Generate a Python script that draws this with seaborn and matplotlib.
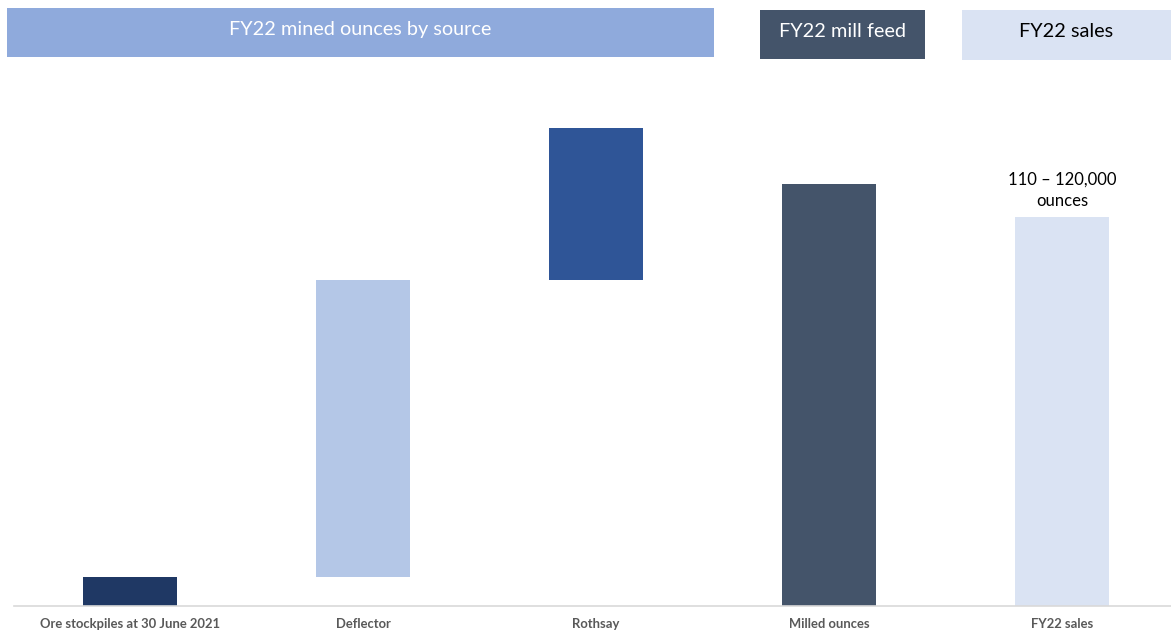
import matplotlib
matplotlib.use("Agg")
import matplotlib.pyplot as plt
import seaborn as sns
import pandas as pd
from matplotlib.patches import Rectangle

# waterfall data (thousand ounces)
categories = ["Ore stockpiles at 30 June 2021", "Deflector", "Rothsay", "Milled ounces", "FY22 sales"]
heights = [8.5, 88.0, 45.0, 125.0, 115.0]
bases = [0.0, 8.5, 96.5, 0.0, 0.0]
bar_colors = ["#1F3864", "#B4C7E7", "#2F5597", "#44546A", "#DAE3F3"]
sales_label = "110 – 120,000\nounces"

headers = ["FY22 mined ounces by source", "FY22 mill feed", "FY22 sales"]
header_colors = ["#8FAADC", "#44546A", "#DAE3F3"]
header_text_colors = ["white", "white", "black"]

sns.set_style("white")
plt.rcParams["font.family"] = ["Lato", "DejaVu Sans"]

df = pd.DataFrame({"category": categories, "ounces": heights})

W, H = 1171, 635
fig = plt.figure(figsize=(W / 100, H / 100), dpi=100)
ax = fig.add_axes([14 / W, 1 - 606 / H, (W - 14) / W, (606 - 70) / H])

sns.barplot(data=df, x="category", y="ounces", bottom=bases, width=0.4,
            color="#1F3864", ax=ax)
for p, c in zip(ax.patches, bar_colors):
    p.set_facecolor(c)
    p.set_edgecolor("none")

ax.set_xlim(-0.498, 4.468)
ax.set_ylim(0, 158.6)
ax.set_xlabel("")
ax.set_ylabel("")
ax.set_yticks([])
ax.tick_params(axis="x", length=0, pad=9)
for lbl in ax.get_xticklabels():
    lbl.set_fontweight("bold")
    lbl.set_fontsize(9.4)
    lbl.set_color("#595959")
sns.despine(ax=ax, left=True)
ax.spines["bottom"].set_color("#D9D9D9")
ax.spines["bottom"].set_linewidth(1.2)

ax.annotate(sales_label, xy=(4, heights[4]), xytext=(0, 6), textcoords="offset points",
            ha="center", va="bottom", fontsize=12, color="black", linespacing=1.45)

# header boxes
boxes = [(7, 8, 714, 57), (760, 10, 925, 59), (962, 10, 1171, 60)]
for (x0, y0, x1, y1), txt, fc, tc in zip(boxes, headers, header_colors, header_text_colors):
    fig.patches.append(Rectangle((x0 / W, 1 - y1 / H), (x1 - x0) / W, (y1 - y0) / H,
                                 transform=fig.transFigure, facecolor=fc, edgecolor="none"))
    fig.text((x0 + x1) / 2 / W, 1 - (y0 + y1) / 2 / H + 0.005, txt, ha="center", va="center",
             fontsize=14.3, color=tc)

fig.savefig("out.png", dpi=100)
